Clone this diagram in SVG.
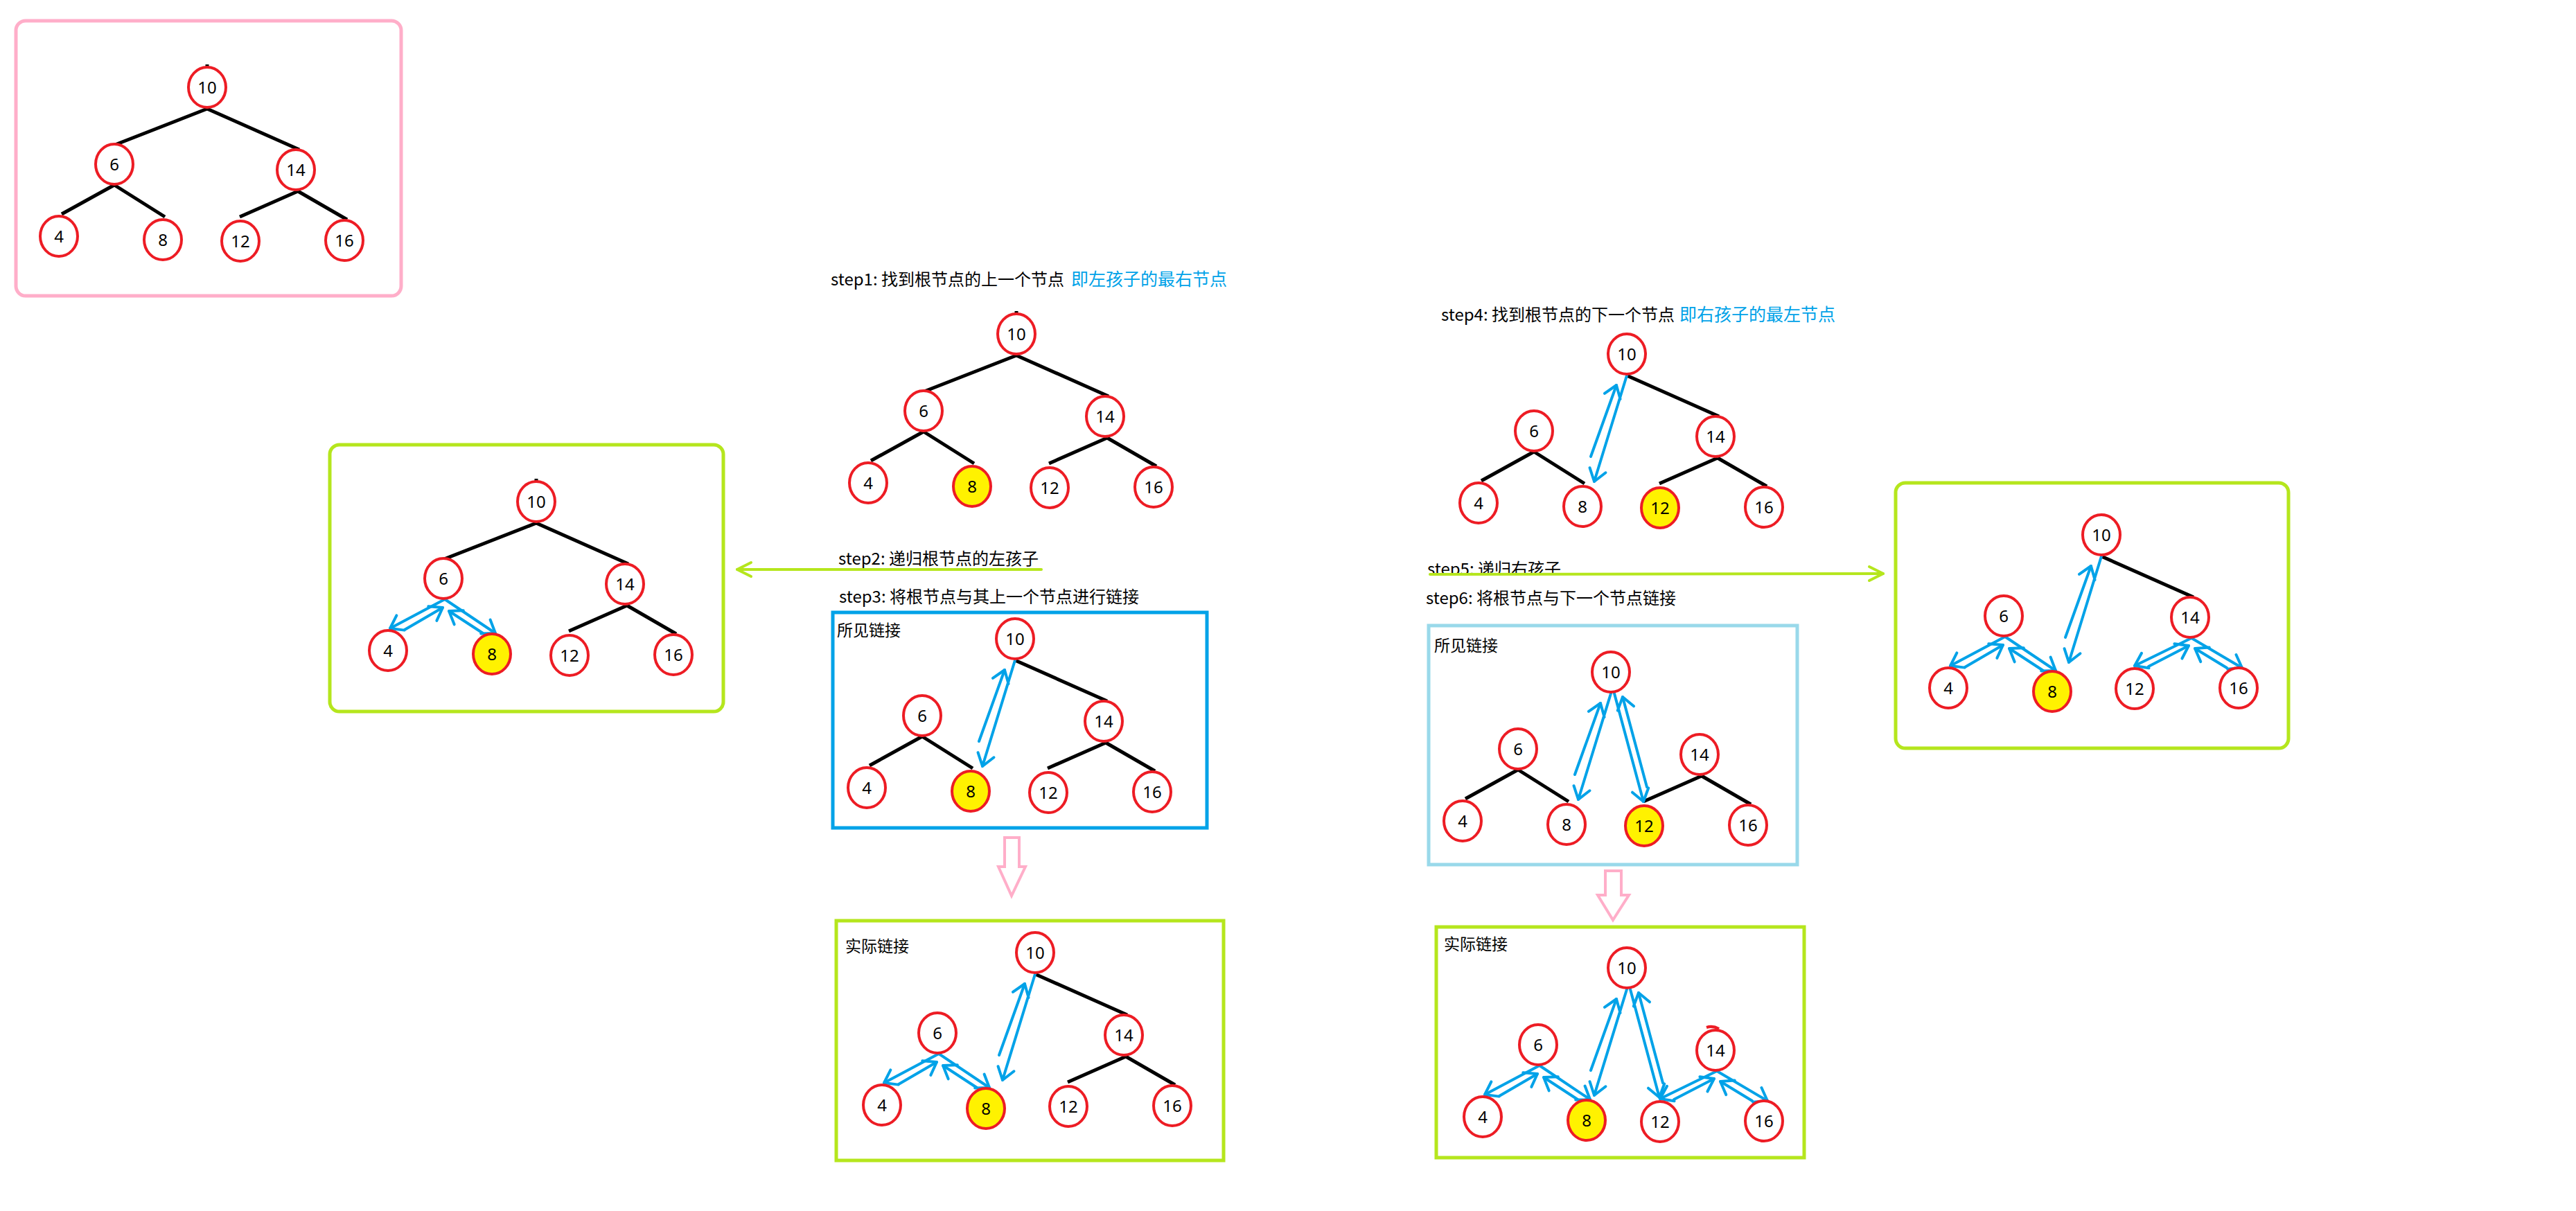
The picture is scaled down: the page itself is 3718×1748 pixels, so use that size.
<svg xmlns="http://www.w3.org/2000/svg" width="3718" height="1748" viewBox="0 0 3718 1748">
<style>
.node ellipse{fill:#fff;stroke:#ED1C24;stroke-width:4}
.node.hl ellipse{fill:#FFF200}
.node text{font-family:"Noto Sans","Open Sans",sans-serif;font-size:24px;text-anchor:middle;fill:#000}
.edge{stroke:#000;stroke-width:5;fill:none}
.link{stroke:#00A2E8;stroke-width:4;fill:none;stroke-linecap:round;marker-end:url(#ah)}
.lbl{font-family:"Noto Sans CJK SC","Noto Sans",sans-serif;font-size:24px;fill:#000}
.lbl2{font-family:"Noto Sans CJK SC","Noto Sans",sans-serif;font-size:23px;fill:#000}
.blue{fill:#00A2E8;font-size:25px}
.gline{stroke:#B5E61D;stroke-width:4;fill:none;stroke-linecap:round;marker-end:url(#gh)}
.frame{fill:none;stroke-width:5}
.pinkarrow{fill:#fff;stroke:#FFAEC9;stroke-width:4;stroke-linejoin:miter}
</style>
<defs>
<marker id="ah" markerUnits="userSpaceOnUse" viewBox="-24 -16 28 32" refX="0" refY="0" markerWidth="28" markerHeight="32" orient="auto">
<path d="M-17,-12 L0,0 L-17,12" fill="none" stroke="#00A2E8" stroke-width="4" stroke-linecap="round" stroke-linejoin="round"/>
</marker>
<marker id="gh" markerUnits="userSpaceOnUse" viewBox="-26 -14 30 28" refX="0" refY="0" markerWidth="30" markerHeight="28" orient="auto">
<path d="M-20,-10 L0,0 L-20,10" fill="none" stroke="#B5E61D" stroke-width="4" stroke-linecap="round" stroke-linejoin="round"/>
</marker>
<clipPath id="clip5"><rect x="2040" y="790" width="400" height="37"/></clipPath>
</defs>
<rect x="0" y="0" width="3718" height="1748" fill="#fff"/>

<g id="frames">
<rect x="23" y="30" width="556" height="397" rx="14" class="frame" stroke="#FFAEC9" stroke-width="4"/>
<rect x="476" y="642" width="568" height="385" rx="14" class="frame" stroke="#B5E61D"/>
<rect x="1202" y="884" width="540" height="311" class="frame" stroke="#00A2E8"/>
<rect x="1207" y="1329" width="559" height="346" class="frame" stroke="#B5E61D"/>
<rect x="2062" y="903" width="532" height="345" class="frame" stroke="#99D9EA"/>
<rect x="2073" y="1338" width="531" height="333" class="frame" stroke="#B5E61D"/>
<rect x="2736" y="697" width="567" height="383" rx="14" class="frame" stroke="#B5E61D"/>
<path class="pinkarrow" d="M1450,1209 H1471 V1251 H1480 L1460,1293 L1441,1251 H1450 Z"/>
<path class="pinkarrow" d="M2317,1257 H2340 V1292 H2351 L2328,1328 L2306,1292 H2317 Z"/>
</g>

<g id="labels">
<text class="lbl" x="1199" y="412">step1: 找到根节点的上一个节点<tspan class="blue" x="1546">即左孩子的最右节点</tspan></text>
<text class="lbl" x="1210" y="815">step2: 递归根节点的左孩子</text>
<text class="lbl" x="1211" y="870">step3: 将根节点与其上一个节点进行链接</text>
<text class="lbl2" x="1208" y="918">所见链接</text>
<text class="lbl2" x="1220" y="1374">实际链接</text>
<text class="lbl" x="2080" y="463">step4: 找到根节点的下一个节点<tspan class="blue" x="2424">即右孩子的最左节点</tspan></text>
<text class="lbl" x="2060" y="830" clip-path="url(#clip5)">step5: 递归右孩子</text>
<text class="lbl" x="2058" y="872">step6: 将根节点与下一个节点链接</text>
<text class="lbl2" x="2070" y="940">所见链接</text>
<text class="lbl2" x="2084" y="1371">实际链接</text>
</g>

<g id="connectors">
<path class="gline" d="M1503,822 L1064,822"/>
<path class="gline" d="M2064,829 L2718,828"/>

<g id="c-t1" transform="translate(299,126)">
<path class="edge" d="M0,-29 L0,-33"/>
<path class="edge" d="M0,31 L-133,83"/>
<path class="edge" d="M0,31 L133,90"/>
<path class="edge" d="M-134,141 L-210,183"/>
<path class="edge" d="M-134,141 L-61,187"/>
<path class="edge" d="M131,150 L47,187"/>
<path class="edge" d="M131,150 L202,191"/>
</g>
<g id="c-t2" transform="translate(1467,482)">
<path class="edge" d="M0,-29 L0,-33"/>
<path class="edge" d="M0,31 L-133,83"/>
<path class="edge" d="M0,31 L133,90"/>
<path class="edge" d="M-134,141 L-210,183"/>
<path class="edge" d="M-134,141 L-61,187"/>
<path class="edge" d="M131,150 L47,187"/>
<path class="edge" d="M131,150 L202,191"/>
</g>
<g id="c-t3" transform="translate(774,724)">
<path class="edge" d="M0,-29 L0,-33"/>
<path class="edge" d="M0,31 L-133,83"/>
<path class="edge" d="M0,31 L133,90"/>
<path class="edge" d="M131,150 L47,187"/>
<path class="edge" d="M131,150 L202,191"/>
<path class="link" d="M-132,141 L-211,183"/>
<path class="link" d="M-190,185 L-135,153"/>
<path class="link" d="M-132,141 L-59,190"/>
<path class="link" d="M-77,190 L-126,158"/>
</g>
<g id="c-t4" transform="translate(1465,922)">
<path class="edge" d="M0,31 L133,90"/>
<path class="edge" d="M-134,141 L-210,183"/>
<path class="edge" d="M-134,141 L-61,187"/>
<path class="edge" d="M131,150 L47,187"/>
<path class="edge" d="M131,150 L202,191"/>
<path class="link" d="M0,31 L-47,184"/>
<path class="link" d="M-52,148 L-15,45"/>
</g>
<g id="c-t5" transform="translate(1494,1375)">
<path class="edge" d="M0,31 L133,90"/>
<path class="edge" d="M131,150 L47,187"/>
<path class="edge" d="M131,150 L202,191"/>
<path class="link" d="M0,31 L-47,184"/>
<path class="link" d="M-52,148 L-15,45"/>
<g transform="translate(-7,5)">
<path class="link" d="M-132,141 L-211,183"/>
<path class="link" d="M-190,185 L-135,153"/>
<path class="link" d="M-132,141 L-59,190"/>
<path class="link" d="M-77,190 L-126,158"/>
</g>
</g>
<g id="c-t6" transform="translate(2348,511)">
<path class="edge" d="M0,31 L133,90"/>
<path class="edge" d="M-134,141 L-210,183"/>
<path class="edge" d="M-134,141 L-61,187"/>
<path class="edge" d="M131,150 L47,187"/>
<path class="edge" d="M131,150 L202,191"/>
<path class="link" d="M0,31 L-47,184"/>
<path class="link" d="M-52,148 L-15,45"/>
</g>
<g id="c-t7" transform="translate(2325,970)">
<path class="edge" d="M-134,141 L-210,183"/>
<path class="edge" d="M-134,141 L-61,187"/>
<path class="edge" d="M131,150 L47,187"/>
<path class="edge" d="M131,150 L202,191"/>
<path class="link" d="M0,31 L-47,184"/>
<path class="link" d="M-52,148 L-15,45"/>
<path class="link" d="M5,31 L47,187"/>
<path class="link" d="M52,166 L17,36"/>
</g>
<g id="c-t8" transform="translate(2348,1397)">
<path class="link" d="M0,31 L-47,184"/>
<path class="link" d="M-52,148 L-15,45"/>
<path class="link" d="M5,31 L47,187"/>
<path class="link" d="M52,166 L17,36"/>
<path class="link" d="M130,149 L48,189"/>
<path class="link" d="M68,190 L126,160"/>
<path class="link" d="M130,149 L203,192"/>
<path class="link" d="M181,192 L135,164"/>
<g transform="translate(6,0)">
<path class="link" d="M-132,141 L-211,183"/>
<path class="link" d="M-190,185 L-135,153"/>
<path class="link" d="M-132,141 L-59,190"/>
<path class="link" d="M-77,190 L-126,158"/>
</g>
</g>
<g id="c-t9" transform="translate(3033,772)">
<path class="edge" d="M0,31 L133,90"/>
<path class="link" d="M0,31 L-47,184"/>
<path class="link" d="M-52,148 L-15,45"/>
<path class="link" d="M130,149 L48,189"/>
<path class="link" d="M68,190 L126,160"/>
<path class="link" d="M130,149 L203,192"/>
<path class="link" d="M181,192 L135,164"/>
<g transform="translate(-7,6)">
<path class="link" d="M-132,141 L-211,183"/>
<path class="link" d="M-190,185 L-135,153"/>
<path class="link" d="M-132,141 L-59,190"/>
<path class="link" d="M-77,190 L-126,158"/>
</g>
</g>
</g>

<g id="nodes">
<g id="tree1" transform="translate(299,126)">
<g id="t1-n10" class="node"><ellipse cx="0" cy="0" rx="27" ry="29"/><text x="0" y="9">10</text></g>
<g id="t1-n6" class="node"><ellipse cx="-134" cy="111" rx="27" ry="29"/><text x="-134" y="120">6</text></g>
<g id="t1-n14" class="node"><ellipse cx="128" cy="119" rx="27" ry="29"/><text x="128" y="128">14</text></g>
<g id="t1-n4" class="node"><ellipse cx="-214" cy="215" rx="27" ry="29"/><text x="-214" y="224">4</text></g>
<g id="t1-n8" class="node"><ellipse cx="-64" cy="220" rx="27" ry="29"/><text x="-64" y="229">8</text></g>
<g id="t1-n12" class="node"><ellipse cx="48" cy="222" rx="27" ry="29"/><text x="48" y="231">12</text></g>
<g id="t1-n16" class="node"><ellipse cx="198" cy="221" rx="27" ry="29"/><text x="198" y="230">16</text></g>
</g>
<g id="tree2" transform="translate(1467,482)">
<g id="t2-n10" class="node"><ellipse cx="0" cy="0" rx="27" ry="29"/><text x="0" y="9">10</text></g>
<g id="t2-n6" class="node"><ellipse cx="-134" cy="111" rx="27" ry="29"/><text x="-134" y="120">6</text></g>
<g id="t2-n14" class="node"><ellipse cx="128" cy="119" rx="27" ry="29"/><text x="128" y="128">14</text></g>
<g id="t2-n4" class="node"><ellipse cx="-214" cy="215" rx="27" ry="29"/><text x="-214" y="224">4</text></g>
<g id="t2-n8" class="node hl"><ellipse cx="-64" cy="220" rx="27" ry="29"/><text x="-64" y="229">8</text></g>
<g id="t2-n12" class="node"><ellipse cx="48" cy="222" rx="27" ry="29"/><text x="48" y="231">12</text></g>
<g id="t2-n16" class="node"><ellipse cx="198" cy="221" rx="27" ry="29"/><text x="198" y="230">16</text></g>
</g>
<g id="tree3" transform="translate(774,724)">
<g id="t3-n10" class="node"><ellipse cx="0" cy="0" rx="27" ry="29"/><text x="0" y="9">10</text></g>
<g id="t3-n6" class="node"><ellipse cx="-134" cy="111" rx="27" ry="29"/><text x="-134" y="120">6</text></g>
<g id="t3-n14" class="node"><ellipse cx="128" cy="119" rx="27" ry="29"/><text x="128" y="128">14</text></g>
<g id="t3-n4" class="node"><ellipse cx="-214" cy="215" rx="27" ry="29"/><text x="-214" y="224">4</text></g>
<g id="t3-n8" class="node hl"><ellipse cx="-64" cy="220" rx="27" ry="29"/><text x="-64" y="229">8</text></g>
<g id="t3-n12" class="node"><ellipse cx="48" cy="222" rx="27" ry="29"/><text x="48" y="231">12</text></g>
<g id="t3-n16" class="node"><ellipse cx="198" cy="221" rx="27" ry="29"/><text x="198" y="230">16</text></g>
</g>
<g id="tree4" transform="translate(1465,922)">
<g id="t4-n10" class="node"><ellipse cx="0" cy="0" rx="27" ry="29"/><text x="0" y="9">10</text></g>
<g id="t4-n6" class="node"><ellipse cx="-134" cy="111" rx="27" ry="29"/><text x="-134" y="120">6</text></g>
<g id="t4-n14" class="node"><ellipse cx="128" cy="119" rx="27" ry="29"/><text x="128" y="128">14</text></g>
<g id="t4-n4" class="node"><ellipse cx="-214" cy="215" rx="27" ry="29"/><text x="-214" y="224">4</text></g>
<g id="t4-n8" class="node hl"><ellipse cx="-64" cy="220" rx="27" ry="29"/><text x="-64" y="229">8</text></g>
<g id="t4-n12" class="node"><ellipse cx="48" cy="222" rx="27" ry="29"/><text x="48" y="231">12</text></g>
<g id="t4-n16" class="node"><ellipse cx="198" cy="221" rx="27" ry="29"/><text x="198" y="230">16</text></g>
</g>
<g id="tree5" transform="translate(1494,1375)">
<g id="t5-n10" class="node"><ellipse cx="0" cy="0" rx="27" ry="29"/><text x="0" y="9">10</text></g>
<g id="t5-n6" class="node"><ellipse cx="-141" cy="116" rx="27" ry="29"/><text x="-141" y="125">6</text></g>
<g id="t5-n14" class="node"><ellipse cx="128" cy="119" rx="27" ry="29"/><text x="128" y="128">14</text></g>
<g id="t5-n4" class="node"><ellipse cx="-221" cy="220" rx="27" ry="29"/><text x="-221" y="229">4</text></g>
<g id="t5-n8" class="node hl"><ellipse cx="-71" cy="225" rx="27" ry="29"/><text x="-71" y="234">8</text></g>
<g id="t5-n12" class="node"><ellipse cx="48" cy="222" rx="27" ry="29"/><text x="48" y="231">12</text></g>
<g id="t5-n16" class="node"><ellipse cx="198" cy="221" rx="27" ry="29"/><text x="198" y="230">16</text></g>
</g>
<g id="tree6" transform="translate(2348,511)">
<g id="t6-n10" class="node"><ellipse cx="0" cy="0" rx="27" ry="29"/><text x="0" y="9">10</text></g>
<g id="t6-n6" class="node"><ellipse cx="-134" cy="111" rx="27" ry="29"/><text x="-134" y="120">6</text></g>
<g id="t6-n14" class="node"><ellipse cx="128" cy="119" rx="27" ry="29"/><text x="128" y="128">14</text></g>
<g id="t6-n4" class="node"><ellipse cx="-214" cy="215" rx="27" ry="29"/><text x="-214" y="224">4</text></g>
<g id="t6-n8" class="node"><ellipse cx="-64" cy="220" rx="27" ry="29"/><text x="-64" y="229">8</text></g>
<g id="t6-n12" class="node hl"><ellipse cx="48" cy="222" rx="27" ry="29"/><text x="48" y="231">12</text></g>
<g id="t6-n16" class="node"><ellipse cx="198" cy="221" rx="27" ry="29"/><text x="198" y="230">16</text></g>
</g>
<g id="tree7" transform="translate(2325,970)">
<g id="t7-n10" class="node"><ellipse cx="0" cy="0" rx="27" ry="29"/><text x="0" y="9">10</text></g>
<g id="t7-n6" class="node"><ellipse cx="-134" cy="111" rx="27" ry="29"/><text x="-134" y="120">6</text></g>
<g id="t7-n14" class="node"><ellipse cx="128" cy="119" rx="27" ry="29"/><text x="128" y="128">14</text></g>
<g id="t7-n4" class="node"><ellipse cx="-214" cy="215" rx="27" ry="29"/><text x="-214" y="224">4</text></g>
<g id="t7-n8" class="node"><ellipse cx="-64" cy="220" rx="27" ry="29"/><text x="-64" y="229">8</text></g>
<g id="t7-n12" class="node hl"><ellipse cx="48" cy="222" rx="27" ry="29"/><text x="48" y="231">12</text></g>
<g id="t7-n16" class="node"><ellipse cx="198" cy="221" rx="27" ry="29"/><text x="198" y="230">16</text></g>
</g>
<g id="tree8" transform="translate(2348,1397)">
<g id="t8-n10" class="node"><ellipse cx="0" cy="0" rx="27" ry="29"/><text x="0" y="9">10</text></g>
<g id="t8-n6" class="node"><ellipse cx="-128" cy="111" rx="27" ry="29"/><text x="-128" y="120">6</text></g>
<g id="t8-n14" class="node"><ellipse cx="128" cy="119" rx="27" ry="29"/><text x="128" y="128">14</text><path d="M115,86 Q124,83 133,88" fill="none" stroke="#ED1C24" stroke-width="4"/></g>
<g id="t8-n4" class="node"><ellipse cx="-208" cy="215" rx="27" ry="29"/><text x="-208" y="224">4</text></g>
<g id="t8-n8" class="node hl"><ellipse cx="-58" cy="220" rx="27" ry="29"/><text x="-58" y="229">8</text></g>
<g id="t8-n12" class="node"><ellipse cx="48" cy="222" rx="27" ry="29"/><text x="48" y="231">12</text></g>
<g id="t8-n16" class="node"><ellipse cx="198" cy="221" rx="27" ry="29"/><text x="198" y="230">16</text></g>
</g>
<g id="tree9" transform="translate(3033,772)">
<g id="t9-n10" class="node"><ellipse cx="0" cy="0" rx="27" ry="29"/><text x="0" y="9">10</text></g>
<g id="t9-n6" class="node"><ellipse cx="-141" cy="117" rx="27" ry="29"/><text x="-141" y="126">6</text></g>
<g id="t9-n14" class="node"><ellipse cx="128" cy="119" rx="27" ry="29"/><text x="128" y="128">14</text></g>
<g id="t9-n4" class="node"><ellipse cx="-221" cy="221" rx="27" ry="29"/><text x="-221" y="230">4</text></g>
<g id="t9-n8" class="node hl"><ellipse cx="-71" cy="226" rx="27" ry="29"/><text x="-71" y="235">8</text></g>
<g id="t9-n12" class="node"><ellipse cx="48" cy="222" rx="27" ry="29"/><text x="48" y="231">12</text></g>
<g id="t9-n16" class="node"><ellipse cx="198" cy="221" rx="27" ry="29"/><text x="198" y="230">16</text></g>
</g>
</g>
</svg>
